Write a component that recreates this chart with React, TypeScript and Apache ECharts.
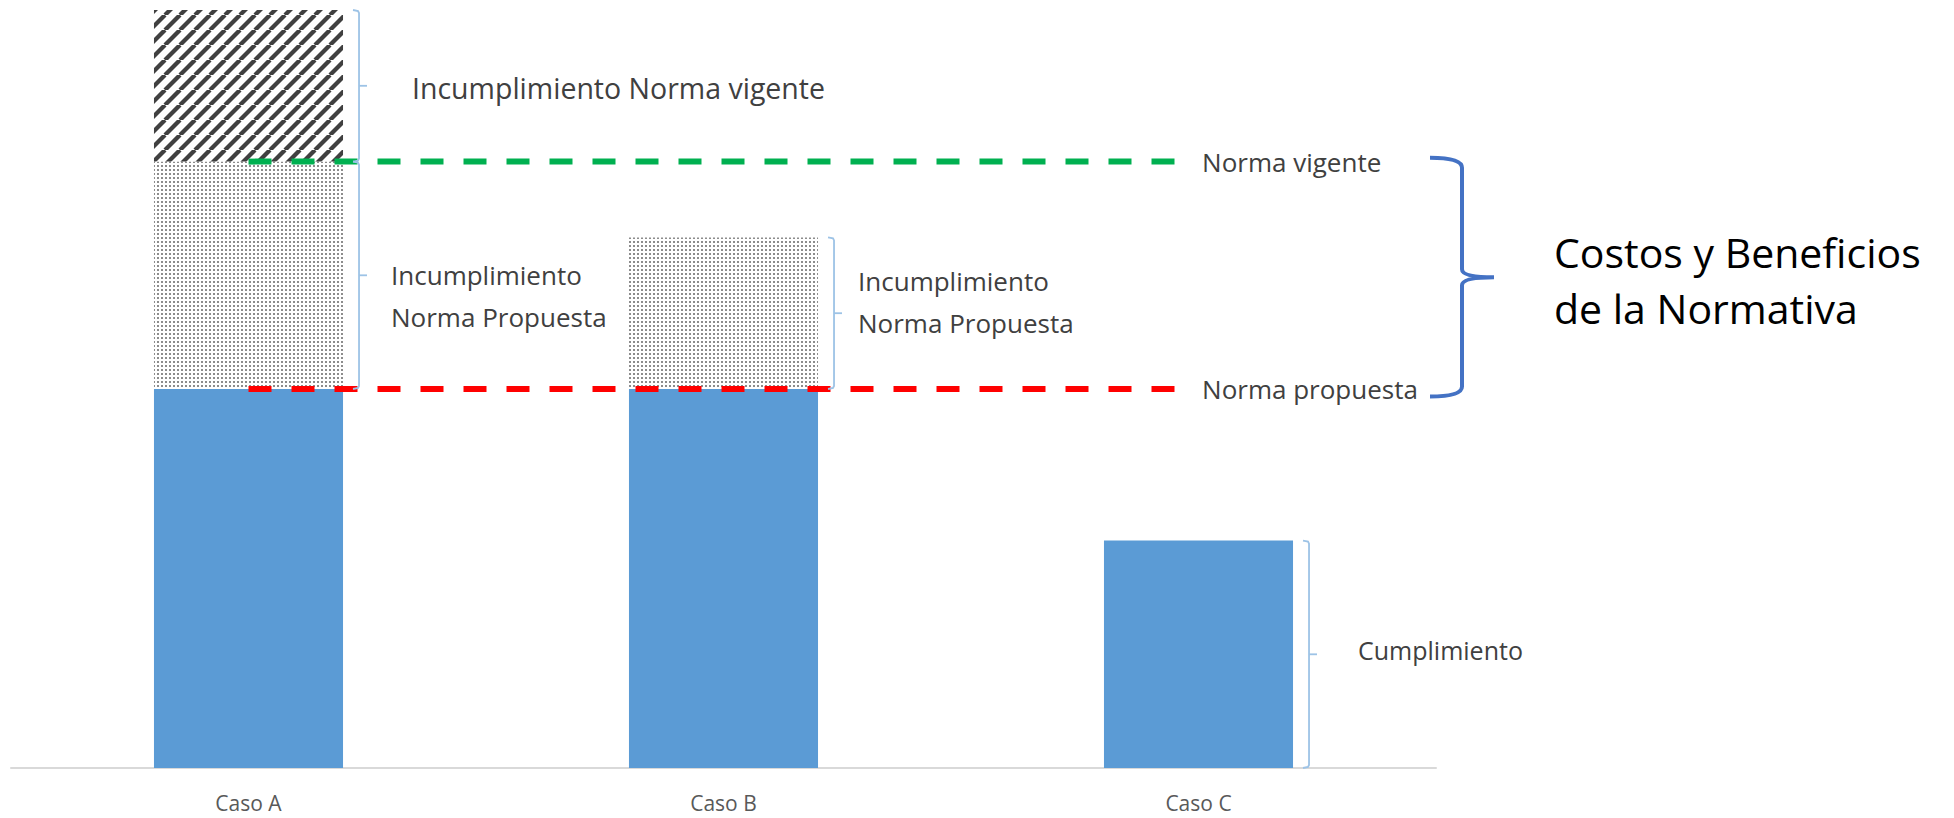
import React, { useEffect, useRef } from 'react';
import * as echarts from 'echarts';

// ---------- data ----------
const CATEGORIES = ['Caso A', 'Caso B', 'Caso C'];
const CUMPLIMIENTO = [100, 100, 60];
const INCUMPL_PROPUESTA = [60, 40, 0];
const INCUMPL_VIGENTE = [40, 0, 0];

const NORMA_VIGENTE = 160;
const NORMA_PROPUESTA = 100;
// extent of the dashed norm lines, in category units (0 = left edge, 3 = right edge)
const NORMA_LINE_X = [0.5, 2.457];

// annotation brackets: category index, low value, high value, label
const BRACKET_CAT = [0, 0, 1, 2];
const BRACKET_LOW = [160, 100, 100, 0];
const BRACKET_HIGH = [200, 160, 140, 60];
const BRACKET_LABELS = [
  'Incumplimiento Norma vigente',
  'Incumplimiento\nNorma Propuesta',
  'Incumplimiento\nNorma Propuesta',
  'Cumplimiento',
];

// big brace on the right (value range it spans)
const BRACE_RANGE = [161, 98];
const BRACE_TITLE = 'Costos y Beneficios\nde la Normativa';

// ---------- layout constants ----------
const FONT = '"Open Sans", "Noto Sans", sans-serif';
const BAR_RATIO = 0.398;
const LABEL_DX = [53, 32, 24, 49];
const LABEL_DY = [2, 21, -11, -4];
const LABEL_SIZE = [28.5, 26, 26, 25];

function makeHatch() {
  const T = 15;
  const c = document.createElement('canvas');
  c.width = T;
  c.height = T;
  const ctx = c.getContext('2d')!;
  ctx.fillStyle = '#ffffff';
  ctx.fillRect(0, 0, T, T);
  ctx.strokeStyle = '#404040';
  ctx.lineWidth = 4.3;
  for (let k = -1; k <= 1; k++) {
    ctx.beginPath();
    ctx.moveTo(k * T, T);
    ctx.lineTo(k * T + T, 0);
    ctx.stroke();
  }
  return { image: c, repeat: 'repeat', imageWidth: T, imageHeight: T } as any;
}

function makeDots() {
  const T = 4;
  const c = document.createElement('canvas');
  c.width = T;
  c.height = T;
  const ctx = c.getContext('2d')!;
  ctx.fillStyle = '#ffffff';
  ctx.fillRect(0, 0, T, T);
  ctx.fillStyle = '#8c8c8c';
  ctx.fillRect(1, 1, 2, 2);
  return { image: c, repeat: 'repeat', imageWidth: T, imageHeight: T } as any;
}

export default function App() {
  const ref = useRef<HTMLDivElement>(null);

  useEffect(() => {
    if (!ref.current) return;
    const chart = echarts.init(ref.current, undefined, { renderer: 'svg' });

    const bracketData = BRACKET_CAT.map((c, i) => [c, BRACKET_LOW[i], BRACKET_HIGH[i]]);

    const option: any = {
      animation: false,
      backgroundColor: '#ffffff',
      grid: { left: 11, right: 518, top: 10, bottom: 50, containLabel: false },
      xAxis: [
        {
          type: 'category',
          data: CATEGORIES,
          axisLine: { lineStyle: { color: '#D9D9D9', width: 2 } },
          axisTick: { show: false },
          axisLabel: { color: '#595959', fontSize: 21, margin: 24, fontFamily: FONT },
          splitLine: { show: false },
        },
        { type: 'value', min: 0, max: 3, show: false },
      ],
      yAxis: { type: 'value', min: 0, max: 200, show: false },
      series: [
        {
          name: 'Cumplimiento',
          type: 'bar',
          stack: 'total',
          barWidth: (BAR_RATIO * 100).toFixed(1) + '%',
          data: CUMPLIMIENTO,
          itemStyle: { color: '#5B9BD5' },
        },
        {
          name: 'Incumplimiento Norma Propuesta',
          type: 'bar',
          stack: 'total',
          data: INCUMPL_PROPUESTA,
          itemStyle: { color: makeDots() },
        },
        {
          name: 'Incumplimiento Norma vigente',
          type: 'bar',
          stack: 'total',
          data: INCUMPL_VIGENTE,
          itemStyle: { color: makeHatch() },
        },
        {
          name: 'Norma vigente',
          type: 'line',
          xAxisIndex: 1,
          symbol: 'none',
          z: 5,
          data: NORMA_LINE_X.map((x) => [x, NORMA_VIGENTE]),
          lineStyle: { color: '#00B050', width: 6, type: [23, 20] },
          endLabel: {
            show: true,
            formatter: '{a}',
            distance: 24,
            color: '#404040',
            fontSize: 26,
            fontFamily: FONT,
          },
        },
        {
          name: 'Norma propuesta',
          type: 'line',
          xAxisIndex: 1,
          symbol: 'none',
          z: 5,
          data: NORMA_LINE_X.map((x) => [x, NORMA_PROPUESTA]),
          lineStyle: { color: '#FF0000', width: 6, type: [23, 20] },
          endLabel: {
            show: true,
            formatter: '{a}',
            distance: 24,
            color: '#404040',
            fontSize: 26,
            fontFamily: FONT,
          },
        },
        {
          name: 'brackets',
          type: 'custom',
          z: 6,
          data: bracketData,
          encode: { x: 0, y: [1, 2] },
          renderItem: (params: any, api: any) => {
            const i = params.dataIndex;
            const cat = api.value(0);
            const lo = api.value(1);
            const hi = api.value(2);
            const band = api.size([1, 0])[0];
            const pTop = api.coord([cat, hi]);
            const pBot = api.coord([cat, lo]);
            const x = pTop[0] + (band * BAR_RATIO) / 2 + 16;
            const yT = pTop[1];
            const yB = pBot[1];
            const yM = (yT + yB) / 2;
            const stroke = '#9DC3E6';
            return {
              type: 'group',
              children: [
                {
                  type: 'polyline',
                  shape: { points: [[x - 6, yT], [x - 1, yT + 1], [x, yT + 3], [x, yB - 3], [x - 1, yB - 1], [x - 6, yB]] },
                  style: { stroke, lineWidth: 1.8, fill: null },
                },
                {
                  type: 'line',
                  shape: { x1: x, y1: yM, x2: x + 8, y2: yM },
                  style: { stroke, lineWidth: 1.8 },
                },
                {
                  type: 'text',
                  x: x + LABEL_DX[i],
                  y: yM + LABEL_DY[i],
                  style: {
                    text: BRACKET_LABELS[i],
                    fill: '#404040',
                    fontSize: LABEL_SIZE[i],
                    fontFamily: FONT,
                    align: 'left',
                    verticalAlign: 'middle',
                    lineHeight: 42,
                  },
                },
              ],
            };
          },
        },
        {
          name: 'brace',
          type: 'custom',
          z: 6,
          data: [[CATEGORIES.length - 1, BRACE_RANGE[0], BRACE_RANGE[1]]],
          encode: { x: 0, y: [1, 2] },
          renderItem: (params: any, api: any) => {
            const cat = api.value(0);
            const band = api.size([1, 0])[0];
            const pTop = api.coord([cat, api.value(1)]);
            const pBot = api.coord([cat, api.value(2)]);
            const x0 = pTop[0] + band / 2 - 6;
            const xv = x0 + 32;
            const xt = x0 + 64;
            const yT = pTop[1];
            const yB = pBot[1];
            const yM = (yT + yB) / 2;
            const d =
              `M${x0},${yT} Q${xv},${yT} ${xv},${yT + 10} ` +
              `L${xv},${yM - 8} Q${xv},${yM} ${xt},${yM} ` +
              `M${xt},${yM} Q${xv},${yM} ${xv},${yM + 8} ` +
              `L${xv},${yB - 10} Q${xv},${yB} ${x0},${yB}`;
            return {
              type: 'group',
              children: [
                {
                  type: 'path',
                  shape: { pathData: d },
                  style: { stroke: '#4472C4', lineWidth: 4, fill: 'none' },
                },
                {
                  type: 'text',
                  x: xt + 60,
                  y: yM + 3,
                  style: {
                    text: BRACE_TITLE,
                    fill: '#000000',
                    fontSize: 41,
                    fontFamily: FONT,
                    align: 'left',
                    verticalAlign: 'middle',
                    lineHeight: 56,
                  },
                },
              ],
            };
          },
        },
      ],
    };

    chart.setOption(option);
    return () => chart.dispose();
  }, []);

  return (
    <div
      ref={ref}
      style={{ position: 'fixed', left: 0, top: 0, width: 1954, height: 818, background: '#fff' }}
    />
  );
}
